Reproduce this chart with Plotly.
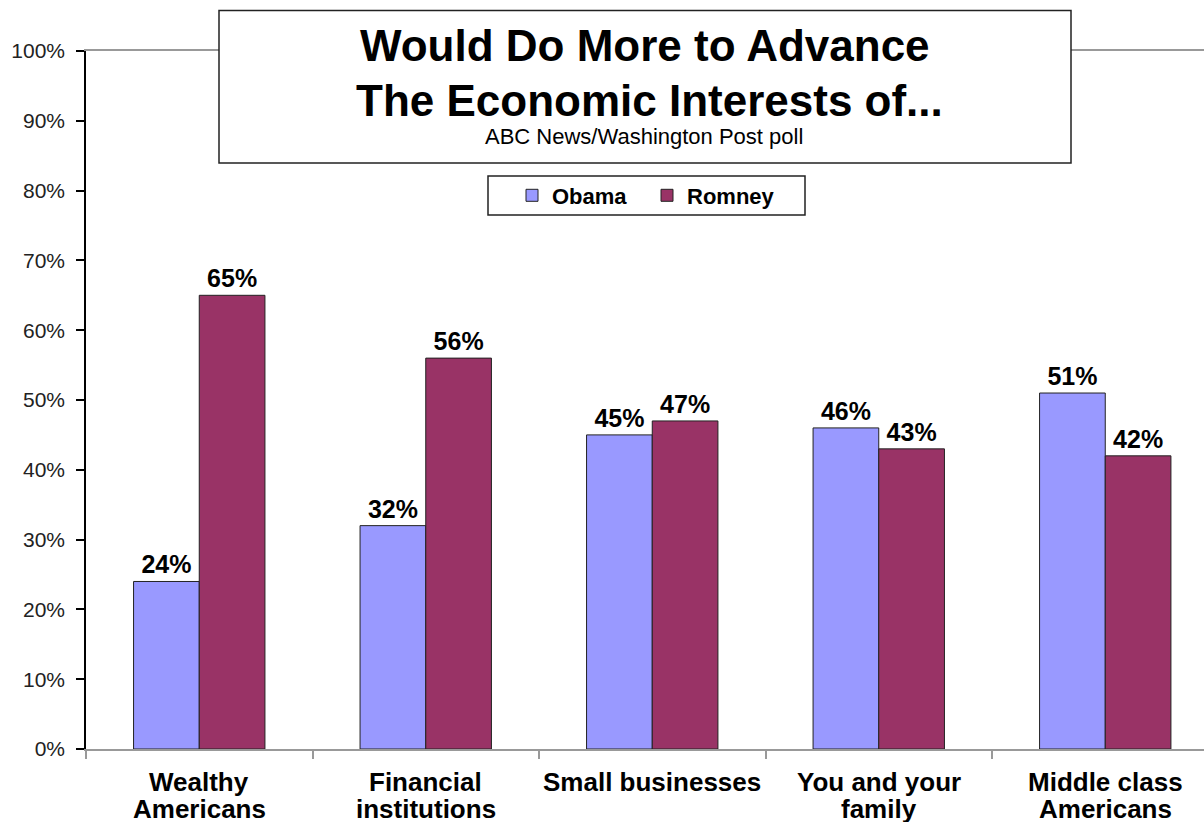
import plotly.graph_objects as go

# ---- data ----
categories = ["Wealthy Americans", "Financial institutions", "Small businesses",
              "You and your family", "Middle class Americans"]
label_line1 = ["Wealthy", "Financial", "Small businesses", "You and your", "Middle class"]
label_line2 = ["Americans", "institutions", "", "family", "Americans"]
obama = [24, 32, 45, 46, 51]
romney = [65, 56, 47, 43, 42]
y_ticks = list(range(0, 101, 10))
y_tick_labels = [f"{v}%" for v in y_ticks]

title_line1 = "Would Do More to Advance"
title_line2 = "The Economic Interests of..."
subtitle = "ABC News/Washington Post poll"

# ---- layout helpers (pixel -> paper) ----
W, H = 1204, 822
L, R, T, B = 86, 0, 51, 73
PW, PH = W - L - R, H - T - B
FONT = "Arial, Liberation Sans, sans-serif"


def fx(px):
    return (px - L) / PW


def fy(py):
    return (H - B - py) / PH


OBAMA_C = "#9999FF"
ROMNEY_C = "#993366"

fig = go.Figure()
fig.add_trace(go.Bar(
    name="Obama", x=categories, y=obama,
    marker=dict(color=OBAMA_C, line=dict(color="#222222", width=1)),
    texttemplate="%{y}%", textposition="outside", cliponaxis=False,
    constraintext="none",
    textfont=dict(family=FONT, size=25, color="black", weight="bold"),
))
fig.add_trace(go.Bar(
    name="Romney", x=categories, y=romney,
    marker=dict(color=ROMNEY_C, line=dict(color="#222222", width=1)),
    texttemplate="%{y}%", textposition="outside", cliponaxis=False,
    constraintext="none",
    textfont=dict(family=FONT, size=25, color="black", weight="bold"),
))

# category width ~226.5 px; plot is cut at the right edge
cat_w = 226.5
x_max = -0.5 + PW / cat_w

annotations = []
for c, l1, l2 in zip(categories, label_line1, label_line2):
    annotations.append(dict(x=c, xref="x", y=fy(782), yref="paper", text=l1,
                            showarrow=False, xanchor="center", yanchor="middle",
                            font=dict(family=FONT, size=26, color="black", weight="bold")))
    if l2:
        annotations.append(dict(x=c, xref="x", y=fy(809), yref="paper", text=l2,
                                showarrow=False, xanchor="center", yanchor="middle",
                                font=dict(family=FONT, size=26, color="black", weight="bold")))

annotations += [
    dict(x=fx(645), y=fy(46), xref="paper", yref="paper", text=title_line1,
         showarrow=False, xanchor="center", yanchor="middle",
         font=dict(family=FONT, size=44, color="black", weight="bold")),
    dict(x=fx(649), y=fy(101), xref="paper", yref="paper", text=title_line2,
         showarrow=False, xanchor="center", yanchor="middle",
         font=dict(family=FONT, size=44, color="black", weight="bold")),
    dict(x=fx(644), y=fy(136), xref="paper", yref="paper", text=subtitle,
         showarrow=False, xanchor="center", yanchor="middle",
         font=dict(family=FONT, size=22, color="black")),
]

shapes = [
    # title box
    dict(type="rect", xref="paper", yref="paper", x0=fx(219), x1=fx(1071),
         y0=fy(163), y1=fy(10.5), fillcolor="white",
         line=dict(color="#222222", width=1.5), layer="above"),
    # legend box
    dict(type="rect", xref="paper", yref="paper", x0=fx(488), x1=fx(805),
         y0=fy(215), y1=fy(176), fillcolor="white",
         line=dict(color="#222222", width=1.5), layer="above"),
]

fig.update_layout(
    width=W, height=H,
    margin=dict(l=L, r=R, t=T, b=B, autoexpand=False),
    paper_bgcolor="white", plot_bgcolor="white",
    barmode="group", bargap=0.42, bargroupgap=0,
    font=dict(family=FONT, color="black"),
    showlegend=True,
    legend=dict(orientation="h", x=fx(512), xanchor="left",
                y=fy(195.5), yanchor="middle",
                bgcolor="rgba(0,0,0,0)", borderwidth=0,
                entrywidth=90, entrywidthmode="pixels",
                font=dict(family=FONT, size=22, color="black", weight="bold")),
    xaxis=dict(range=[-0.5, x_max], showticklabels=False,
               showline=True, linecolor="#999999", linewidth=1.5, mirror=True,
               ticks="outside", tickson="boundaries", ticklen=8,
               tickcolor="#999999", tickwidth=1.5, showgrid=False, zeroline=False,
               fixedrange=True),
    yaxis=dict(range=[0, 100], tickvals=y_ticks, ticktext=y_tick_labels,
               showline=True, linecolor="black", linewidth=1.5,
               ticks="outside", ticklen=8, tickcolor="black", tickwidth=1.5,
               ticklabelstandoff=7,
               tickfont=dict(family=FONT, size=21, color="#222222"),
               showgrid=False, zeroline=False, fixedrange=True),
    annotations=annotations,
    shapes=shapes,
)

fig.write_html("out.html",
               config={"displayModeBar": False},
               post_script="document.body.style.margin='0';document.body.style.padding='0';")
